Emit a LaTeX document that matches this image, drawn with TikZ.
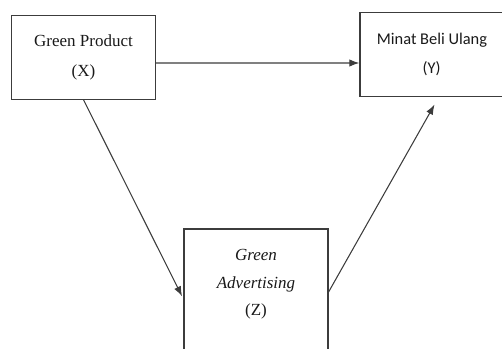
\documentclass[tikz,border=0pt]{standalone}
\usepackage{fontspec}
\setmainfont{Liberation Serif}
\newfontfamily\calibrifont{Carlito}
\usepackage{xcolor}
\usepackage{tikz}
\usetikzlibrary{arrows.meta, calc}
\definecolor{linegray}{RGB}{60,60,60}
\definecolor{textgray}{RGB}{25,25,25}
\tikzset{
  varbox/.style={draw=linegray, line width=1pt, minimum width=4.32cm, minimum height=2.5cm,
    align=center, text=textgray, font=\fontsize{14.5}{25.5}\selectfont},
  link/.style={->, draw=linegray, line width=0.9pt}
}

\begin{document}
\begin{tikzpicture}[>={Latex[length=0.3cm, width=0.22cm]}, x=0.03cm, y=-0.03cm]
  \useasboundingbox (0,0) rectangle (502,349);
  \clip (0,0) rectangle (502,349);
  % Variables
  \node[varbox] (prod) at (83.5,57.5) {Green Product\\(X)};
  \node[varbox, minimum width=5cm, font=\calibrifont\fontsize{14}{25.5}\selectfont] (minat) at (443.3,54.5)
    {\hspace*{-0.68cm}Minat Beli Ulang\\\hspace*{-0.7cm}(Y)};
  \node[varbox, minimum height=4.2cm] (adv) at (256,299) {};
  \node[text=textgray, align=center, font=\fontsize{14.5}{23.5}\selectfont] (advlabel) at (256,284.5)
    {\textit{Green}\\\textit{Advertising}\\(Z)};
  % Paths
  \draw[link] ([yshift=-0.165cm]prod.east) -- ([yshift=-0.255cm]minat.west);
  \draw[link, shorten >=0.09cm] (prod.south) -- (adv.west);
  \draw[link, shorten >=0.27cm] ([yshift=0.21cm]adv.east) -- ([xshift=-0.13cm]minat.south);
\end{tikzpicture}
\end{document}
